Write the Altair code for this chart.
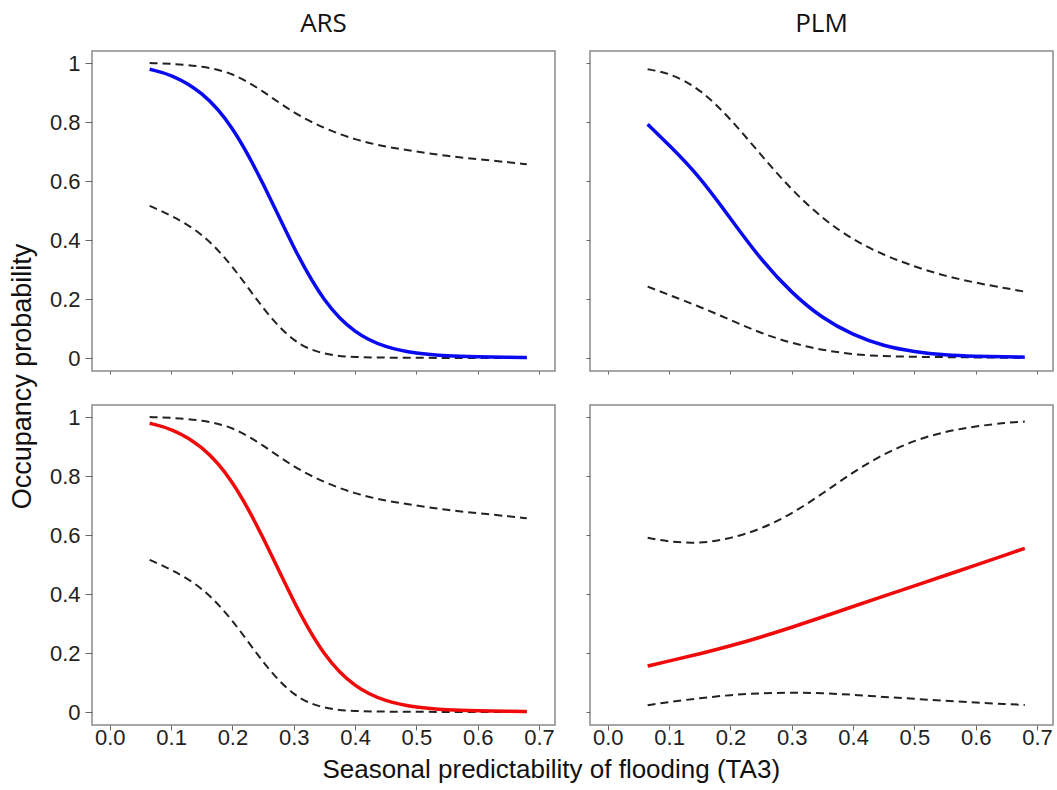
import altair as alt
import pandas as pd

# ---- data ----
X = [0.065, 0.1, 0.15, 0.2, 0.25, 0.3, 0.35, 0.4, 0.45, 0.5, 0.55, 0.6, 0.65, 0.68]

ARS_MEAN = [0.979, 0.962, 0.905, 0.79, 0.595, 0.37, 0.185, 0.082, 0.035, 0.015, 0.007, 0.004, 0.002, 0.002]
ARS_UPPER = [1.0, 0.998, 0.99, 0.968, 0.905, 0.83, 0.778, 0.74, 0.716, 0.70, 0.685, 0.674, 0.664, 0.657]
ARS_LOWER = [0.516, 0.484, 0.425, 0.315, 0.165, 0.05, 0.01, 0.003, 0.001, 0.001, 0.0, 0.0, 0.0, 0.0]

PLM_B_MEAN = [0.793, 0.722, 0.615, 0.473, 0.332, 0.22, 0.134, 0.078, 0.04, 0.021, 0.010, 0.006, 0.004, 0.003]
PLM_B_UPPER = [0.979, 0.967, 0.914, 0.812, 0.688, 0.569, 0.473, 0.40, 0.349, 0.310, 0.278, 0.255, 0.236, 0.225]
PLM_B_LOWER = [0.242, 0.214, 0.174, 0.129, 0.084, 0.050, 0.027, 0.012, 0.006, 0.004, 0.003, 0.002, 0.001, 0.001]

PLM_R_MEAN = [0.156, 0.173, 0.197, 0.224, 0.254, 0.287, 0.322, 0.358, 0.393, 0.428, 0.463, 0.498, 0.533, 0.555]
PLM_R_UPPER = [0.591, 0.577, 0.571, 0.588, 0.62, 0.672, 0.740, 0.814, 0.875, 0.921, 0.951, 0.969, 0.981, 0.985]
PLM_R_LOWER = [0.023, 0.034, 0.047, 0.058, 0.064, 0.066, 0.064, 0.059, 0.051, 0.045, 0.038, 0.032, 0.027, 0.024]

X_TICKS = [0.0, 0.1, 0.2, 0.3, 0.4, 0.5, 0.6, 0.7]
Y_TICKS = [0, 0.2, 0.4, 0.6, 0.8, 1.0]

COL_TITLES = ["ARS", "PLM"]
X_TITLE = "Seasonal predictability of flooding (TA3)"
Y_TITLE = "Occupancy probability"

W, H = 463, 320
XDOM = [-0.029, 0.726]
YDOM = [-0.044, 1.041]
FONT = "Liberation Sans"


def panel(mean, lower, upper, color, bottom, left, title=None):
    n = len(X)
    mdf = pd.DataFrame({"x": X, "y": mean})
    ddf = pd.DataFrame({"x": X * 2, "y": lower + upper,
                        "s": ["lower"] * n + ["upper"] * n})
    xaxis = alt.Axis(values=X_TICKS, format=".1f", grid=False, domain=False,
                     labels=bottom, tickSize=5 if bottom else 3,
                     labelPadding=-3, labelFontSize=22, labelFont=FONT,
                     labelColor="#222", tickColor="#666", title=None)
    yaxis = alt.Axis(values=Y_TICKS, format="~g", grid=False, domain=False,
                     labels=left, tickSize=7 if left else 4,
                     labelPadding=5, labelFontSize=22, labelFont=FONT,
                     labelColor="#222", tickColor="#666", title=None)
    xs = alt.X("x:Q", scale=alt.Scale(domain=XDOM, nice=False, zero=False), axis=xaxis)
    ys = alt.Y("y:Q", scale=alt.Scale(domain=YDOM, nice=False, zero=False), axis=yaxis)
    dashed = alt.Chart(ddf).mark_line(color="#222", strokeWidth=2, strokeDash=[8, 5],
                                      interpolate="basis").encode(x=xs, y=ys, detail="s:N")
    line = alt.Chart(mdf).mark_line(color=color, strokeWidth=3.5,
                                    interpolate="basis").encode(x=xs, y=ys)
    ch = alt.layer(dashed, line).properties(width=W, height=H)
    if title:
        ch = ch.properties(title=alt.TitleParams(title, fontSize=26, font="Open Sans",
                                                 fontWeight="normal", color="#111",
                                                 offset=14, anchor="middle"))
    return ch


p1 = panel(ARS_MEAN, ARS_LOWER, ARS_UPPER, "#0a0af0", False, True, COL_TITLES[0])
p2 = panel(PLM_B_MEAN, PLM_B_LOWER, PLM_B_UPPER, "#0a0af0", False, False, COL_TITLES[1])
p3 = panel(ARS_MEAN, ARS_LOWER, ARS_UPPER, "#f00a0a", True, True)
p4 = panel(PLM_R_MEAN, PLM_R_LOWER, PLM_R_UPPER, "#f00a0a", True, False)

top = alt.hconcat(p1, p2, spacing=28)
bot = alt.hconcat(p3, p4, spacing=28)
grid = alt.vconcat(top, bot, spacing=28,
                   title=alt.TitleParams(X_TITLE, orient="bottom", fontSize=26, font=FONT,
                                         fontWeight="normal", color="#111", offset=8,
                                         anchor="middle"))
chart = alt.hconcat(grid, title=alt.TitleParams(Y_TITLE, orient="left", fontSize=27, font=FONT,
                                                fontWeight="normal", color="#111", offset=12,
                                                anchor="middle", dx=20)).properties(
    padding={"left": 8, "top": 10, "right": 2, "bottom": 2},
    background="white",
).configure_view(stroke="#8a8a8a", strokeWidth=1.5)

chart.save("out.html", embed_options={"renderer": "svg", "actions": False})
